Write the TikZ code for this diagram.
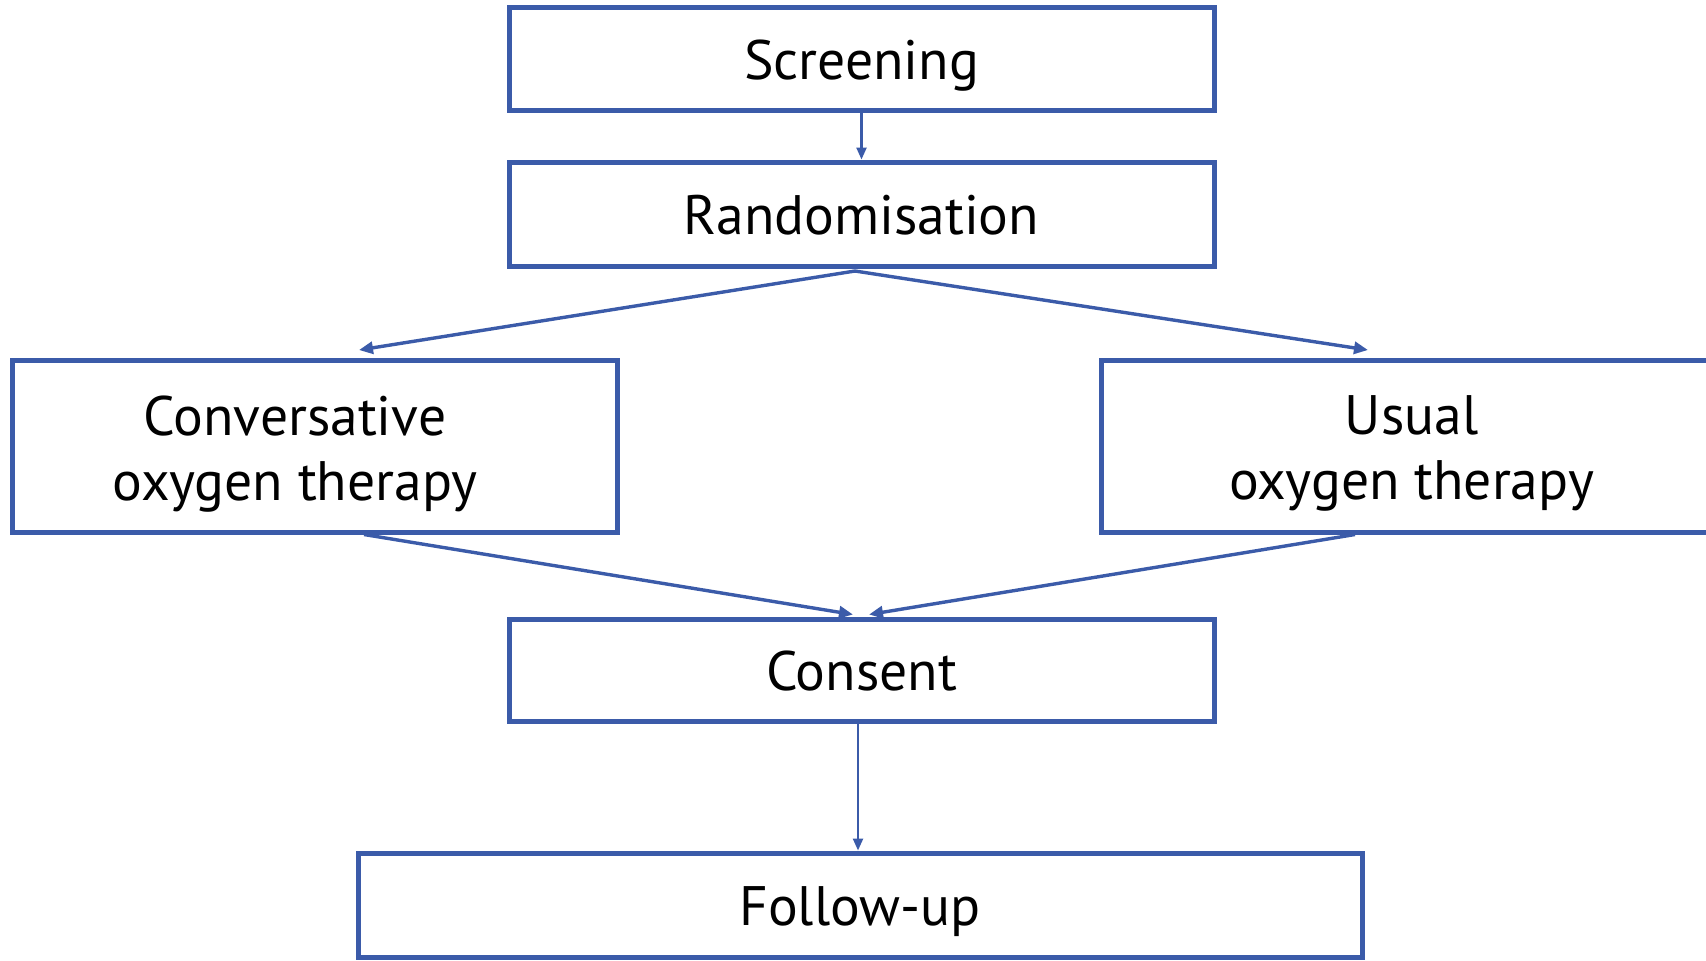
\documentclass[tikz,border=0pt]{standalone}
\usepackage{fontspec}
\setmainfont{PT Sans}
\usetikzlibrary{arrows.meta,calc}
\definecolor{flowblue}{RGB}{59,91,169}
\begin{document}
\begin{tikzpicture}[x=0.5pt,y=-0.5pt,
  stage/.style={draw=flowblue, line width=2.5pt, fill=white, inner sep=0pt,
    font=\fontsize{27.8pt}{32.5pt}\selectfont, align=center,
    text height=20pt, text depth=0pt},
  stagetext/.style={font=\fontsize{27.8pt}{32.5pt}\selectfont, align=center, inner sep=0pt},
  link/.style={draw=flowblue, line width=1.2pt, -{Triangle[length=6pt,width=5pt]}},
  fork/.style={link, line width=1.7pt, -{Triangle[length=7pt,width=6pt]}}]
\clip (0,0) rectangle (1706,960);
\fill[white] (0,0) rectangle (1706,960);

% stages of the trial
\node[stage, minimum width=352.5pt, minimum height=51.5pt] (scr) at (861.5,59) {Screening};
\node[stage, minimum width=352.5pt, minimum height=52pt] (ran) at (861.5,214) {Randomisation};
\node[stage, minimum width=302.5pt, minimum height=86pt,
  label={[stagetext, xshift=-9.75pt, yshift=-3.8pt]center:{Conversative\\oxygen therapy}}] (cons) at (314.5,446) {};
\node[stage, minimum width=310.5pt, minimum height=86pt,
  label={[stagetext, yshift=-3.8pt]center:{Usual\\oxygen therapy}}] (usu) at (1411.5,446) {};
\node[stage, minimum width=352.5pt, minimum height=51pt] (con) at (861.5,670) {Consent};
\node[stage, minimum width=502pt, minimum height=52pt] (fol) at (860,905) {Follow-up};

% connectors
\coordinate (split) at (855,271);
\draw[link] (scr) -- (ran);
\draw[fork] (split) -- ($(cons.north)+(44.5,-7.5)$);
\draw[fork] (split) -- ($(usu.north)+(-43.5,-7.5)$);
\draw[fork] ($(cons.south)+(49.5,0)$) -- ($(con.north)+(-8.5,-2)$);
\draw[fork] ($(usu.south)+(-56.5,0)$) -- ($(con.north)+(7.5,-2)$);
\draw[link] ($(con.south)+(-3.5,0)$) -- ($(fol.north)+(-2,0)$);
\end{tikzpicture}
\end{document}
